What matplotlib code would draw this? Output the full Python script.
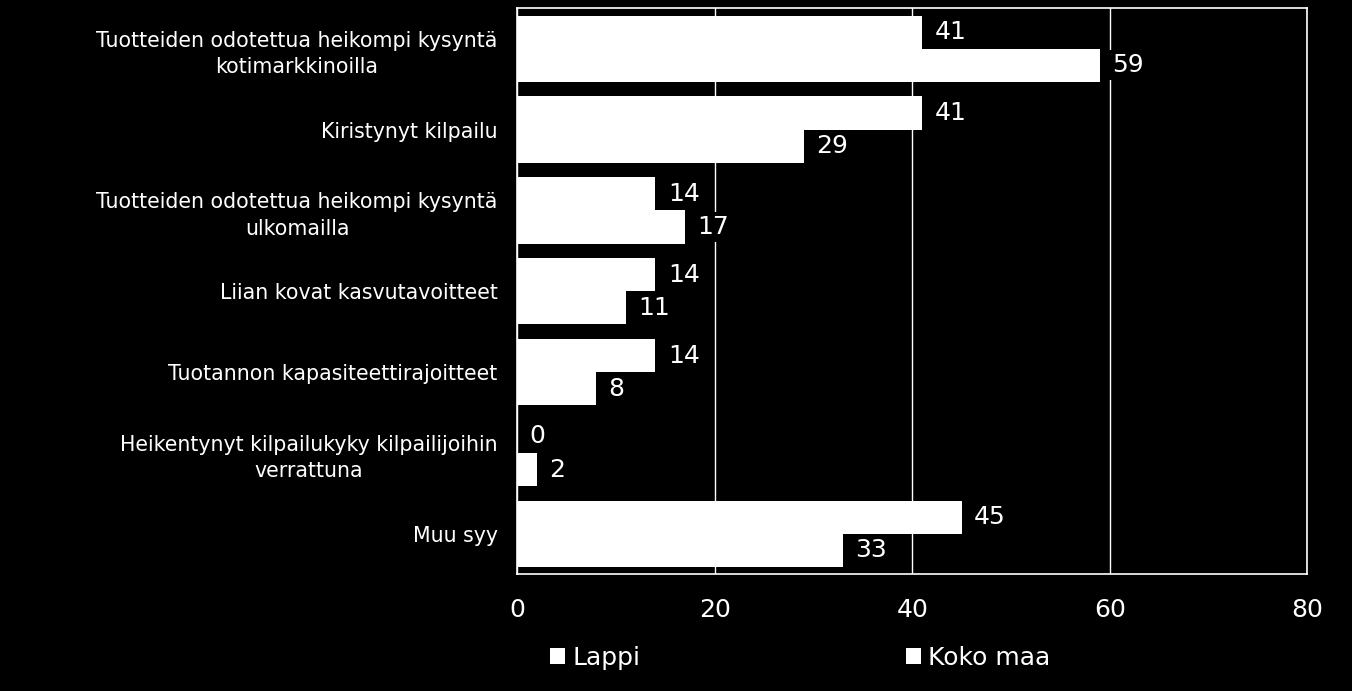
import numpy as np
import matplotlib
matplotlib.use('Agg')
import matplotlib.pyplot as plt
from matplotlib.patches import Patch

# data
categories = ['Tuotteiden odotettua heikompi kysyntä\nkotimarkkinoilla',
              'Kiristynyt kilpailu',
              'Tuotteiden odotettua heikompi kysyntä\nulkomailla',
              'Liian kovat kasvutavoitteet',
              'Tuotannon kapasiteettirajoitteet',
              'Heikentynyt kilpailukyky kilpailijoihin\nverrattuna',
              'Muu syy']
lappi = [41, 41, 14, 14, 14, 0, 45]
koko_maa = [59, 29, 17, 11, 8, 2, 33]
series_names = ['Lappi', 'Koko maa']
xticks = [0, 20, 40, 60, 80]

plt.rcParams['font.family'] = ['DejaVu Sans']

fig = plt.figure(figsize=(13.52, 6.91), dpi=100, facecolor='black')
ax = fig.add_axes([0.3825, 0.169, 0.5845, 0.819])
ax.set_facecolor('black')

y = np.arange(len(categories))
h = 0.41
ax.barh(y - h / 2, lappi, height=h, color='white', zorder=2)
ax.barh(y + h / 2, koko_maa, height=h, color='white', zorder=2)

for i in range(len(categories)):
    for val, yy in ((lappi[i], y[i] - h / 2), (koko_maa[i], y[i] + h / 2)):
        ax.annotate(str(val), (val, yy), xytext=(9, 0), textcoords='offset points',
                    va='center', ha='left', color='white', fontsize=18, zorder=4,
                    bbox=dict(boxstyle='square,pad=0.12', fc='black', ec='none'))

ax.set_xlim(0, 80)
ax.set_ylim(len(categories) - 0.5, -0.5)
ax.set_xticks(xticks)
ax.set_xticklabels([str(t) for t in xticks], color='white', fontsize=18)
ax.set_yticks(y)
ax.set_yticklabels(categories, color='white', fontsize=14.8, multialignment='center',
                   linespacing=1.4)
ax.tick_params(axis='both', length=0)
ax.tick_params(axis='x', pad=17)
ax.tick_params(axis='y', pad=14)
ax.grid(axis='x', color='white', linewidth=1, zorder=1)
for s in ax.spines.values():
    s.set_color('white')
    s.set_linewidth(1.2)

handles = [Patch(facecolor='white', edgecolor='none', label=n) for n in series_names]
leg = fig.legend(handles=handles, loc='center', bbox_to_anchor=(0.592, 0.048), ncol=2,
                 frameon=False, fontsize=18, handlelength=0.6, handleheight=0.6,
                 handletextpad=0.3, columnspacing=10.6)
for t in leg.get_texts():
    t.set_color('white')

fig.savefig('out.png', dpi=100, facecolor='black')
